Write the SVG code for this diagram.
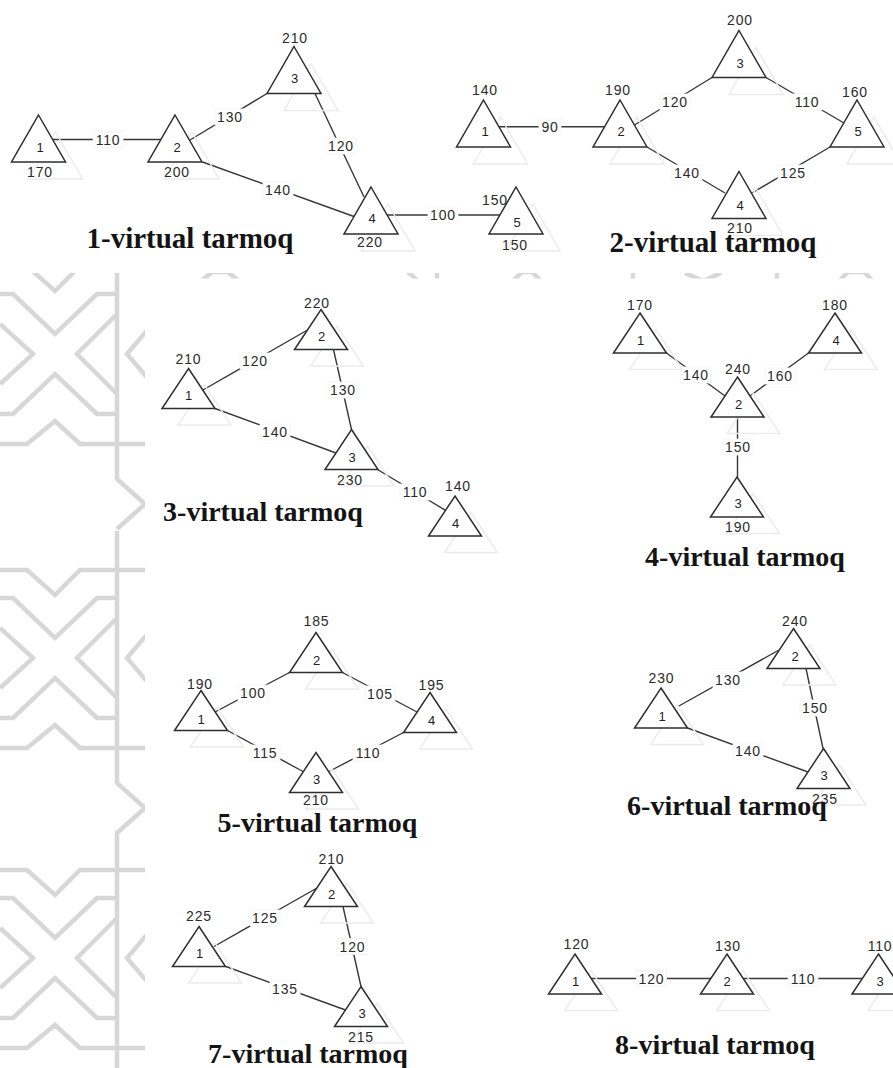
<svg xmlns="http://www.w3.org/2000/svg" xmlns:xlink="http://www.w3.org/1999/xlink" width="893" height="1068" viewBox="0 0 893 1068">
  <style>
    .tri { fill: #ffffff; stroke: #2e2e2e; stroke-width: 1.5; stroke-linejoin: miter; }
    .sh { fill: none; stroke: #ebebeb; stroke-width: 1.4; }
    .edge { stroke: #383838; stroke-width: 1.4; fill: none; }
    .lb { fill: #ffffff; stroke: #f2f2f2; stroke-width: 0.8; }
    .num { font-family: "Liberation Sans", Arial, sans-serif; font-size: 13px; fill: #222222; text-anchor: middle; dominant-baseline: central; }
    .w { font-family: "Liberation Sans", Arial, sans-serif; font-size: 14px; letter-spacing: 0.8px; fill: #2b2b2b; text-anchor: middle; dominant-baseline: central; }
    .title { font-family: "Liberation Serif", "Times New Roman", serif; font-weight: bold; font-size: 28px; fill: #141414; text-anchor: middle; }
    .big { font-size: 29px; }
    .motif { fill: none; stroke: #d7d7d7; stroke-width: 4.5; stroke-linejoin: miter; }
  </style>
  <defs>
    <!-- node glyphs: apex at origin -->
    <path id="ta" d="M0,0 L27,47 L-27,47 Z"/>
    <path id="tb" d="M0,0 L26.5,40 L-26.5,40 Z"/>
    <!-- white plate under an edge weight -->
    <rect id="plate" x="-15" y="-8" width="30" height="16"/>
    <rect id="plate2" x="-11" y="-8" width="22" height="16"/>
    <!-- one row of the girih backdrop, centred on its X -->
    <path id="motif" d="M0,-88 H27 L55,-63 L80,-88 H150 M0,-60 H13 L55,-20 L97,-60 H117 M0,-30 L33,0 L0,30 M117,-40 L77,0 L117,40 M0,60 H13 L55,20 L97,60 H117 M0,90 H27 L55,67 L80,90 H150 M150,-27 L127,0 L150,27 M117,-127 V125 L145,150 L117,175"/>
    <clipPath id="backdrop">
      <rect x="0" y="273" width="145" height="795"/>
      <rect x="0" y="273" width="893" height="5.5"/>
    </clipPath>
  </defs>

  <rect width="893" height="1068" fill="#ffffff"/>

  <!-- backdrop ornament -->
  <g id="ornament" clip-path="url(#backdrop)" class="motif">
    <use xlink:href="#motif" transform="translate(0,354)"/>
    <use xlink:href="#motif" transform="translate(0,658)"/>
    <use xlink:href="#motif" transform="translate(0,958)"/>
    <path d="M200,282 L212,272 H228 L240,282 M408,272 L418,281 M437,272 V282 M512,282 L522,272 H532 L542,282 M633,272 V282 M685,273 L703,281 L721,273 M777,272 V282 M838,282 L848,272 H864 L874,282"/>
  </g>

  <!-- connectors -->
  <g id="connectors">
    <!-- network 1 -->
    <line class="edge" x1="53" y1="139.5" x2="161" y2="139.5"/>
    <line class="edge" x1="190" y1="140" x2="267" y2="93.5"/>
    <line class="edge" x1="202.5" y1="162" x2="354" y2="216.5"/>
    <line class="edge" x1="315" y1="93.5" x2="364" y2="197"/>
    <line class="edge" x1="387" y1="215" x2="500" y2="215"/>
    <use xlink:href="#plate" class="lb" x="108" y="139.5"/><text class="w" x="108" y="139.5">110</text>
    <use xlink:href="#plate" class="lb" x="230" y="117"/><text class="w" x="230" y="117">130</text>
    <use xlink:href="#plate" class="lb" x="278" y="190"/><text class="w" x="278" y="190">140</text>
    <use xlink:href="#plate" class="lb" x="341" y="146"/><text class="w" x="341" y="146">120</text>
    <use xlink:href="#plate" class="lb" x="443" y="215"/><text class="w" x="443" y="215">100</text>
    <!-- network 2 -->
    <line class="edge" x1="499" y1="126.7" x2="605" y2="126.7" stroke="#4a5058" stroke-width="2"/>
    <line class="edge" x1="634.5" y1="125" x2="712" y2="77.5"/>
    <line class="edge" x1="647" y1="147" x2="725" y2="193"/>
    <line class="edge" x1="766" y1="77.5" x2="844" y2="123"/>
    <line class="edge" x1="830" y1="147" x2="752" y2="193"/>
    <use xlink:href="#plate2" class="lb" x="550" y="127"/><text class="w" x="550" y="127">90</text>
    <use xlink:href="#plate" class="lb" x="675" y="102"/><text class="w" x="675" y="102">120</text>
    <use xlink:href="#plate" class="lb" x="687" y="173"/><text class="w" x="687" y="173">140</text>
    <use xlink:href="#plate" class="lb" x="807" y="102"/><text class="w" x="807" y="102">110</text>
    <use xlink:href="#plate" class="lb" x="793" y="173"/><text class="w" x="793" y="173">125</text>
    <!-- network 3 -->
    <line class="edge" x1="203" y1="390" x2="307.5" y2="330"/>
    <line class="edge" x1="333.5" y1="349.5" x2="351.5" y2="429.5"/>
    <line class="edge" x1="215" y1="408.5" x2="336" y2="453"/>
    <line class="edge" x1="377.5" y1="469.5" x2="445.5" y2="510.3"/>
    <use xlink:href="#plate" class="lb" x="255" y="361"/><text class="w" x="255" y="361">120</text>
    <use xlink:href="#plate" class="lb" x="343" y="390"/><text class="w" x="343" y="390">130</text>
    <use xlink:href="#plate" class="lb" x="275" y="432"/><text class="w" x="275" y="432">140</text>
    <use xlink:href="#plate" class="lb" x="415" y="492"/><text class="w" x="415" y="492">110</text>
    <!-- network 4 -->
    <line class="edge" x1="666.5" y1="353" x2="725" y2="396"/>
    <line class="edge" x1="808.5" y1="353" x2="750" y2="396"/>
    <line class="edge" x1="737.5" y1="417" x2="737.5" y2="477"/>
    <use xlink:href="#plate" class="lb" x="696" y="375"/><text class="w" x="696" y="375">140</text>
    <use xlink:href="#plate" class="lb" x="780" y="376"/><text class="w" x="780" y="376">160</text>
    <use xlink:href="#plate" class="lb" x="738" y="447"/><text class="w" x="738" y="447">150</text>
    <!-- network 5 -->
    <line class="edge" x1="215" y1="712" x2="289.5" y2="672.5"/>
    <line class="edge" x1="342.5" y1="672.5" x2="417" y2="712"/>
    <line class="edge" x1="227.5" y1="730.5" x2="303" y2="771.5"/>
    <line class="edge" x1="403.5" y1="732.5" x2="329" y2="771.5"/>
    <use xlink:href="#plate" class="lb" x="253" y="693"/><text class="w" x="253" y="693">100</text>
    <use xlink:href="#plate" class="lb" x="380" y="694"/><text class="w" x="380" y="694">105</text>
    <use xlink:href="#plate" class="lb" x="265" y="753"/><text class="w" x="265" y="753">115</text>
    <use xlink:href="#plate" class="lb" x="368" y="753"/><text class="w" x="368" y="753">110</text>
    <!-- network 6 -->
    <line class="edge" x1="678" y1="706.5" x2="779" y2="650"/>
    <line class="edge" x1="806" y1="668.5" x2="823" y2="748.5"/>
    <line class="edge" x1="687.5" y1="728" x2="808" y2="772"/>
    <use xlink:href="#plate" class="lb" x="728" y="680"/><text class="w" x="728" y="680">130</text>
    <use xlink:href="#plate" class="lb" x="815" y="708"/><text class="w" x="815" y="708">150</text>
    <use xlink:href="#plate" class="lb" x="748" y="751"/><text class="w" x="748" y="751">140</text>
    <!-- network 7 -->
    <line class="edge" x1="214" y1="946.5" x2="317" y2="888"/>
    <line class="edge" x1="343" y1="906.5" x2="361" y2="986.5"/>
    <line class="edge" x1="226" y1="966.5" x2="345.5" y2="1010"/>
    <use xlink:href="#plate" class="lb" x="265" y="918"/><text class="w" x="265" y="918">125</text>
    <use xlink:href="#plate" class="lb" x="352.5" y="946.5"/><text class="w" x="352.5" y="946.5">120</text>
    <use xlink:href="#plate" class="lb" x="285" y="989"/><text class="w" x="285" y="989">135</text>
    <!-- network 8 -->
    <line class="edge" x1="591" y1="978.5" x2="711" y2="978.5"/>
    <line class="edge" x1="743" y1="978.5" x2="863" y2="978.5"/>
    <use xlink:href="#plate" class="lb" x="651.5" y="978.5"/><text class="w" x="651.5" y="978.5">120</text>
    <use xlink:href="#plate" class="lb" x="803" y="978.5"/><text class="w" x="803" y="978.5">110</text>
  </g>

  <!-- network 1 nodes -->
  <g id="n1-1"><use xlink:href="#ta" class="sh" x="55.5" y="132"/><use xlink:href="#ta" class="tri" x="38.5" y="115"/><text class="num" x="40" y="147">1</text><text class="w" x="40" y="172">170</text></g>
  <g id="n1-2"><use xlink:href="#ta" class="sh" x="192" y="132"/><use xlink:href="#ta" class="tri" x="175" y="115"/><text class="num" x="177" y="147">2</text><text class="w" x="177" y="172">200</text></g>
  <g id="n1-3"><use xlink:href="#ta" class="sh" x="311" y="63.5"/><use xlink:href="#ta" class="tri" x="294" y="46.5"/><text class="num" x="294.5" y="78">3</text><text class="w" x="295" y="38">210</text></g>
  <g id="n1-4"><use xlink:href="#ta" class="sh" x="388" y="204"/><use xlink:href="#ta" class="tri" x="371" y="187"/><text class="num" x="372" y="218">4</text><text class="w" x="370" y="242">220</text></g>
  <g id="n1-5"><use xlink:href="#ta" class="sh" x="533" y="204"/><use xlink:href="#ta" class="tri" x="516" y="187"/><text class="num" x="517" y="222">5</text><text class="w" x="495" y="200">150</text><text class="w" x="515" y="245">150</text></g>

  <!-- network 2 nodes -->
  <g id="n2-1"><use xlink:href="#ta" class="sh" x="500.5" y="117"/><use xlink:href="#ta" class="tri" x="483.5" y="100"/><text class="num" x="485" y="131">1</text><text class="w" x="485" y="90">140</text></g>
  <g id="n2-2"><use xlink:href="#ta" class="sh" x="637" y="117"/><use xlink:href="#ta" class="tri" x="620" y="100"/><text class="num" x="621" y="131">2</text><text class="w" x="618" y="90">190</text></g>
  <g id="n2-3"><use xlink:href="#ta" class="sh" x="756" y="47.5"/><use xlink:href="#ta" class="tri" x="739" y="30.5"/><text class="num" x="740" y="63">3</text><text class="w" x="740" y="20">200</text></g>
  <g id="n2-4"><use xlink:href="#ta" class="sh" x="756" y="188.5"/><use xlink:href="#ta" class="tri" x="739" y="171.5"/><text class="num" x="740" y="205">4</text><text class="w" x="740" y="228">210</text></g>
  <g id="n2-5"><use xlink:href="#ta" class="sh" x="874" y="117"/><use xlink:href="#ta" class="tri" x="857" y="100"/><text class="num" x="858" y="131">5</text><text class="w" x="855" y="92">160</text></g>

  <!-- network 3 nodes -->
  <g id="n3-1"><use xlink:href="#tb" class="sh" x="204.5" y="385"/><use xlink:href="#tb" class="tri" x="188.5" y="368.5"/><text class="num" x="188.5" y="395">1</text><text class="w" x="188.5" y="359">210</text></g>
  <g id="n3-2"><use xlink:href="#tb" class="sh" x="337" y="326"/><use xlink:href="#tb" class="tri" x="321" y="309.5"/><text class="num" x="321.5" y="336">2</text><text class="w" x="317" y="303">220</text></g>
  <g id="n3-3"><use xlink:href="#tb" class="sh" x="367.5" y="446"/><use xlink:href="#tb" class="tri" x="351.5" y="429.5"/><text class="num" x="352" y="457">3</text><text class="w" x="350" y="480">230</text></g>
  <g id="n3-4"><use xlink:href="#tb" class="sh" x="471" y="512.5"/><use xlink:href="#tb" class="tri" x="455" y="496"/><text class="num" x="455.5" y="523">4</text><text class="w" x="458" y="486">140</text></g>

  <!-- network 4 nodes -->
  <g id="n4-1"><use xlink:href="#tb" class="sh" x="656" y="329.5"/><use xlink:href="#tb" class="tri" x="640" y="313"/><text class="num" x="640.5" y="340">1</text><text class="w" x="640" y="305">170</text></g>
  <g id="n4-2"><use xlink:href="#tb" class="sh" x="753.5" y="393.5"/><use xlink:href="#tb" class="tri" x="737.5" y="377"/><text class="num" x="738.5" y="404">2</text><text class="w" x="738" y="369">240</text></g>
  <g id="n4-3"><use xlink:href="#tb" class="sh" x="753" y="493.5"/><use xlink:href="#tb" class="tri" x="737" y="477"/><text class="num" x="738" y="503">3</text><text class="w" x="738" y="527">190</text></g>
  <g id="n4-4"><use xlink:href="#tb" class="sh" x="851" y="329.5"/><use xlink:href="#tb" class="tri" x="835" y="313"/><text class="num" x="836" y="340">4</text><text class="w" x="835" y="305">180</text></g>

  <!-- network 5 nodes -->
  <g id="n5-1"><use xlink:href="#tb" class="sh" x="217" y="707"/><use xlink:href="#tb" class="tri" x="201" y="690.5"/><text class="num" x="201" y="719">1</text><text class="w" x="200" y="684">190</text></g>
  <g id="n5-2"><use xlink:href="#tb" class="sh" x="332" y="649"/><use xlink:href="#tb" class="tri" x="316" y="632.5"/><text class="num" x="316.5" y="660">2</text><text class="w" x="316.5" y="621">185</text></g>
  <g id="n5-3"><use xlink:href="#tb" class="sh" x="332" y="769"/><use xlink:href="#tb" class="tri" x="316" y="752.5"/><text class="num" x="316.5" y="779">3</text><text class="w" x="316" y="800">210</text></g>
  <g id="n5-4"><use xlink:href="#tb" class="sh" x="446" y="709"/><use xlink:href="#tb" class="tri" x="430" y="692.5"/><text class="num" x="431.5" y="720">4</text><text class="w" x="431.5" y="685">195</text></g>

  <!-- network 6 nodes -->
  <g id="n6-1"><use xlink:href="#tb" class="sh" x="677" y="704.5"/><use xlink:href="#tb" class="tri" x="661" y="688"/><text class="num" x="662" y="716">1</text><text class="w" x="661.5" y="678">230</text></g>
  <g id="n6-2"><use xlink:href="#tb" class="sh" x="809.5" y="645"/><use xlink:href="#tb" class="tri" x="793.5" y="628.5"/><text class="num" x="795" y="656">2</text><text class="w" x="795" y="620.5">240</text></g>
  <g id="n6-3"><use xlink:href="#tb" class="sh" x="839.5" y="765"/><use xlink:href="#tb" class="tri" x="823.5" y="748.5"/><text class="num" x="824" y="775">3</text><text class="w" x="825" y="799">235</text></g>

  <!-- network 7 nodes -->
  <g id="n7-1"><use xlink:href="#tb" class="sh" x="215" y="943"/><use xlink:href="#tb" class="tri" x="199" y="926.5"/><text class="num" x="199.5" y="953">1</text><text class="w" x="199" y="916">225</text></g>
  <g id="n7-2"><use xlink:href="#tb" class="sh" x="347" y="883"/><use xlink:href="#tb" class="tri" x="331" y="866.5"/><text class="num" x="331.5" y="894">2</text><text class="w" x="331.5" y="859">210</text></g>
  <g id="n7-3"><use xlink:href="#tb" class="sh" x="377" y="1003"/><use xlink:href="#tb" class="tri" x="361" y="986.5"/><text class="num" x="362" y="1013">3</text><text class="w" x="361" y="1037">215</text></g>

  <!-- network 8 nodes -->
  <g id="n8-1"><use xlink:href="#tb" class="sh" x="591" y="970.5"/><use xlink:href="#tb" class="tri" x="575" y="954"/><text class="num" x="575.5" y="981.5">1</text><text class="w" x="576.5" y="944">120</text></g>
  <g id="n8-2"><use xlink:href="#tb" class="sh" x="743" y="970.5"/><use xlink:href="#tb" class="tri" x="727" y="954"/><text class="num" x="727" y="981.5">2</text><text class="w" x="728" y="946">130</text></g>
  <g id="n8-3"><use xlink:href="#tb" class="sh" x="894.5" y="970.5"/><use xlink:href="#tb" class="tri" x="878.5" y="954"/><text class="num" x="880" y="981.5">3</text><text class="w" x="880" y="946">110</text></g>

  <!-- captions -->
  <g id="captions">
    <text class="title big" x="190" y="248">1-virtual tarmoq</text>
    <text class="title big" x="713" y="252">2-virtual tarmoq</text>
    <text class="title" x="263" y="521">3-virtual tarmoq</text>
    <text class="title" x="745" y="566">4-virtual tarmoq</text>
    <text class="title" x="317.5" y="832">5-virtual tarmoq</text>
    <text class="title" x="727" y="815">6-virtual tarmoq</text>
    <text class="title" x="308" y="1063">7-virtual tarmoq</text>
    <text class="title" x="715" y="1054">8-virtual tarmoq</text>
  </g>
</svg>
